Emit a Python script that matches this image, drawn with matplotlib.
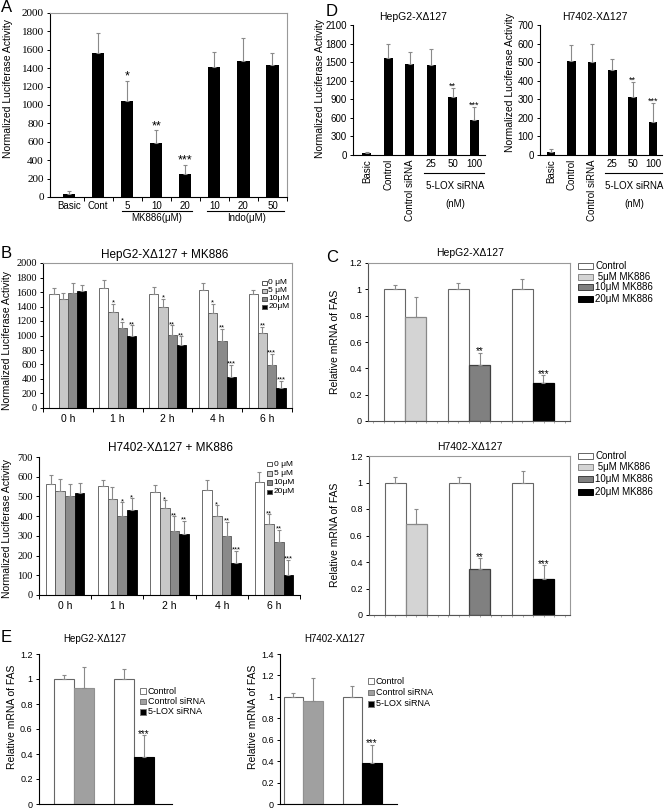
import numpy as np
import matplotlib
matplotlib.use("Agg")
import matplotlib.pyplot as plt
from matplotlib.patches import Rectangle

plt.rcParams['font.family'] = ['Liberation Sans', 'DejaVu Sans']
SERIF = ['Liberation Serif', 'DejaVu Serif']

# ---- panel A: luciferase, MK886 / Indo ----
a_labels = ["Basic", "Cont", "5", "10", "20", "10", "20", "50"]
a_vals = [30, 1560, 1040, 585, 250, 1415, 1480, 1435]
a_err = [30, 220, 225, 140, 100, 160, 245, 130]
a_stars = ["", "", "*", "**", "***", "", "", ""]

# ---- panel D: luciferase, 5-LOX siRNA ----
d_labels = ["Basic", "Control", "Control siRNA", "25", "50", "100"]
d_hep = [40, 1560, 1465, 1450, 935, 560]
d_hep_err = [15, 230, 195, 270, 145, 220]
d_h74 = [18, 505, 500, 458, 310, 180]
d_h74_err = [14, 85, 100, 57, 85, 100]
d_stars = ["", "", "", "", "**", "***"]

# ---- panel B: time course with MK886 ----
b_times = ["0 h", "1 h", "2 h", "4 h", "6 h"]
b_conc = ["0 μM", "5 μM", "10μM", "20μM"]
b_colors = ["white", "#c8c8c8", "#8a8a8a", "black"]
b_hep = [[1570, 1660, 1575, 1630, 1570],
         [1510, 1330, 1400, 1315, 1035],
         [1590, 1110, 1010, 925, 590],
         [1610, 1000, 870, 430, 270]]
b_hep_err = [[80, 110, 95, 90, 60],
             [70, 110, 110, 125, 85],
             [130, 80, 130, 170, 155],
             [90, 140, 120, 165, 105]]
b_hep_stars = [["", "", "", "", ""],
               ["", "*", "*", "*", "**"],
               ["", "*", "**", "**", "***"],
               ["", "**", "**", "***", "***"]]
b_h74 = [[565, 555, 522, 535, 572],
         [530, 485, 440, 400, 360],
         [500, 400, 325, 298, 268],
         [515, 432, 310, 162, 100]]
b_h74_err = [[45, 30, 38, 50, 53],
             [60, 65, 40, 55, 50],
             [65, 70, 75, 72, 62],
             [55, 58, 65, 63, 78]]
b_h74_stars = [["", "", "", "", ""],
               ["", "", "*", "*", "**"],
               ["", "*", "**", "**", "**"],
               ["", "*", "**", "***", "***"]]

# ---- panel C: FAS mRNA with MK886 ----
c_legend = ["Control", " 5μM MK886", "10μM MK886", "20μM MK886"]
c_colors = ["white", "#d4d4d4", "#808080", "black"]
c_edges = ["#666666", "#888888", "#404040", "black"]
c_hep_ctrl = [1.0, 1.0, 1.0]
c_hep_ctrl_err = [0.03, 0.05, 0.08]
c_hep_trt = [0.79, 0.425, 0.285]
c_hep_trt_err = [0.15, 0.095, 0.065]
c_h74_ctrl = [1.0, 1.0, 1.0]
c_h74_ctrl_err = [0.04, 0.04, 0.09]
c_h74_trt = [0.69, 0.345, 0.27]
c_h74_trt_err = [0.11, 0.085, 0.105]
c_stars = ["", "**", "***"]

# ---- panel E: FAS mRNA with 5-LOX siRNA ----
e_legend = ["Control", "Control siRNA", "5-LOX siRNA"]
e_colors = ["white", "#a0a0a0", "black"]
e_hep = [1.0, 0.93, 1.0, 0.38]
e_hep_err = [0.03, 0.17, 0.08, 0.17]
e_h74 = [1.0, 0.96, 1.0, 0.385]
e_h74_err = [0.04, 0.22, 0.10, 0.165]
e_bar_color = [0, 1, 0, 2]
e_stars = ["", "", "", "***"]

W, H = 664, 809
fig = plt.figure(figsize=(W / 100, H / 100), dpi=100)
ERR = dict(ecolor='#8a8a8a', elinewidth=0.8, capsize=1.5, capthick=0.8)


def add_ax(l, t, r, b):
    return fig.add_axes([l / W, 1 - b / H, (r - l) / W, (b - t) / H])


def ftext(x, y, s, **kw):
    fig.text(x / W, 1 - y / H, s, **kw)


def legend_entry(x, y, w, h, color, edge, label, fs, gap=2):
    fig.add_artist(Rectangle((x / W, 1 - (y + h / 2) / H), w / W, h / H,
                             facecolor=color, edgecolor=edge, lw=0.7,
                             transform=fig.transFigure))
    ftext(x + w + gap, y, label, fontsize=fs, va='center', ha='left')


def put_stars(ax, xs, tops, marks, fs, dy):
    for x, t, m in zip(xs, tops, marks):
        if m:
            ax.text(x, t + dy, m, ha='center', va='bottom', fontsize=fs)


def ylabels(ax, ticks, fs, family=None):
    ax.set_yticks(ticks)
    labs = [("%g" % v) for v in ticks]
    if family:
        ax.set_yticklabels(labs, fontsize=fs, fontfamily=family)
    else:
        ax.set_yticklabels(labs, fontsize=fs)
    ax.tick_params(axis='y', length=2.5, width=0.7, pad=2)


# ===== A =====
axA = add_ax(50, 13, 287, 197)
xa = np.arange(len(a_labels))
axA.bar(xa, a_vals, 0.42, color='black', yerr=[np.zeros(len(xa)), a_err], error_kw=ERR)
axA.set_xlim(-0.66, 7.5)
axA.set_ylim(0, 2000)
ylabels(axA, np.arange(0, 2001, 200), 8, SERIF)
axA.set_xticks(xa)
axA.set_xticklabels(a_labels, fontsize=7)
axA.set_xticks(np.arange(0.5, 7.6, 1), minor=True)
axA.tick_params(axis='x', which='major', length=0, pad=3)
axA.tick_params(axis='x', which='minor', length=3, width=0.7)
for s in ['top', 'right']:
    axA.spines[s].set_color('#999999')
put_stars(axA, xa, np.add(a_vals, a_err), a_stars, 9, -20)
trA = axA.get_xaxis_transform()
axA.plot([1.83, 4.24], [-0.076, -0.076], color='black', lw=0.8, transform=trA, clip_on=False)
axA.plot([4.76, 7.38], [-0.076, -0.076], color='black', lw=0.8, transform=trA, clip_on=False)
axA.text(3, -0.085, "MK886(μM)", transform=trA, ha='center', va='top', fontsize=7)
axA.text(6.1, -0.085, "Indo(μM)", transform=trA, ha='center', va='top', fontsize=7)
ftext(8, 89, "Normalized Luciferase Activity", rotation=90, ha='center', va='center', fontsize=7.5)
ftext(1, 8, "A", fontsize=12, ha='left', va='center')


# ===== D =====
def draw_d(box, vals, err, ymax, step, xlim, title, tx, ylx, yly):
    ax = add_ax(*box)
    xd = np.arange(len(d_labels))
    ax.bar(xd, vals, 0.42, color='black', yerr=[np.zeros(len(xd)), err], error_kw=ERR)
    ax.set_xlim(*xlim)
    ax.set_ylim(0, ymax)
    ylabels(ax, np.arange(0, ymax + 1, step), 7)
    ax.set_xticks(xd)
    ax.set_xticklabels(d_labels, fontsize=7)
    for i, lbl in enumerate(ax.get_xticklabels()):
        if i < 3:
            lbl.set_rotation(90)
    ax.tick_params(axis='x', length=0, pad=3)
    for s in ['top', 'right']:
        ax.spines[s].set_visible(False)
    put_stars(ax, xd, np.add(vals, err), d_stars, 6.5, -ymax * 0.02)
    tr = ax.get_xaxis_transform()
    ax.plot([2.65, 5.45], [-0.14, -0.14], color='black', lw=0.8, transform=tr, clip_on=False)
    ax.text(4.1, -0.2, "5-LOX siRNA", transform=tr, ha='center', va='top', fontsize=7)
    ax.text(4.1, -0.34, "(nM)", transform=tr, ha='center', va='top', fontsize=7)
    ftext(tx, 17, title, ha='center', va='center', fontsize=7.5)
    ftext(ylx, yly, "Normalized Luciferase Activity", rotation=90, ha='center', va='center', fontsize=7.5)
    return ax


draw_d((353, 25, 485, 155), d_hep, d_hep_err, 2100, 300, (-0.65, 5.5),
       "HepG2-XΔ127", 413, 320, 88)
draw_d((540, 25, 662, 155), d_h74, d_h74_err, 700, 100, (-0.54, 5.44),
       "H7402-XΔ127", 595, 510, 82)
ftext(326, 12, "D", fontsize=12, ha='left', va='center')


# ===== B =====
def draw_b(box, vals, errs, marks, ymax, step, boxed, title, ty, tx, lx, ly0, ldy, yly):
    ax = add_ax(*box)
    xb = np.arange(len(b_times))
    w = 0.185
    for k in range(len(b_conc)):
        pos = xb + (k - 1.5) * w
        ax.bar(pos, vals[k], w, color=b_colors[k], edgecolor='#555555' if k < 3 else 'black',
               lw=0.6, yerr=[np.zeros(len(xb)), errs[k]], error_kw=ERR)
        put_stars(ax, pos, np.add(vals[k], errs[k]), marks[k], 5.5, -ymax * 0.02)
    ax.set_xlim(-0.5, 4.5)
    ax.set_ylim(0, ymax)
    ylabels(ax, np.arange(0, ymax + 1, step), 7.5, SERIF)
    ax.set_xticks(xb)
    ax.set_xticklabels(b_times, fontsize=7.5)
    ax.set_xticks(np.arange(-0.5, 4.6, 1), minor=True)
    ax.tick_params(axis='x', which='major', length=0, pad=4)
    ax.tick_params(axis='x', which='minor', length=3, width=0.7)
    for s in ['top', 'right']:
        if boxed:
            ax.spines[s].set_color('#999999')
        else:
            ax.spines[s].set_visible(False)
    ftext(tx, ty, title, ha='center', va='center', fontsize=8.5)
    ftext(7, yly, "Normalized Luciferase Activity", rotation=90, ha='center', va='center', fontsize=7.5)
    for k in range(len(b_conc)):
        legend_entry(lx, ly0 + k * ldy, 4.5, 4.5, b_colors[k], '#555555', b_conc[k], 6)
    return ax


draw_b((43, 263, 292, 408), b_hep, b_hep_err, b_hep_stars, 2000, 200, True,
       "HepG2-XΔ127 + MK886", 255, 165, 262, 283, 8, 340)
draw_b((39, 457, 300, 595), b_h74, b_h74_err, b_h74_stars, 700, 100, False,
       "H7402-XΔ127 + MK886", 448, 170, 267, 464, 9.3, 528)
ftext(1, 253, "B", fontsize=12, ha='left', va='center')


# ===== C =====
def draw_c(box, ctrl, ctrl_err, trt, trt_err, title, ty, ly, yly):
    ax = add_ax(*box)
    xc = np.arange(len(ctrl))
    w = 0.33
    ax.bar(xc - w / 2, ctrl, w, color='white', edgecolor=c_edges[0], lw=0.8,
           yerr=[np.zeros(len(xc)), ctrl_err], error_kw=ERR)
    ax.bar(xc + w / 2, trt, w, color=c_colors[1:], edgecolor=c_edges[1:], lw=0.9,
           yerr=[np.zeros(len(xc)), trt_err], error_kw=ERR)
    put_stars(ax, xc + w / 2, np.add(trt, trt_err), c_stars, 7, -0.03)
    ax.set_xlim(-0.58, 2.58)
    ax.set_ylim(0, 1.2)
    ylabels(ax, np.round(np.arange(0, 1.21, 0.2), 1), 6.5)
    ax.set_xticks([])
    ax.set_xticks(np.arange(-0.5, 2.6, 1 / 6), minor=True)
    ax.tick_params(axis='x', which='minor', length=1.5, width=0.5, color='#888888')
    for s in ['left', 'bottom']:
        ax.spines[s].set_color('#555555')
    for s in ['top', 'right']:
        ax.spines[s].set_color('#999999')
    ftext(470, ty, title, ha='center', va='center', fontsize=7.5)
    ftext(335, yly, "Relative mRNA of FAS", rotation=90, ha='center', va='center', fontsize=7.5)
    for k in range(len(c_legend)):
        legend_entry(578, ly[k], 15, 6, c_colors[k], c_edges[k], c_legend[k], 7)
    return ax


draw_c((368, 263, 570, 421), c_hep_ctrl, c_hep_ctrl_err, c_hep_trt, c_hep_trt_err,
       "HepG2-XΔ127", 253, [266, 277, 287, 299], 342)
draw_c((369, 456, 570, 615), c_h74_ctrl, c_h74_ctrl_err, c_h74_trt, c_h74_trt_err,
       "H7402-XΔ127", 447, [456, 467, 479, 492], 535)
ftext(326, 257, "C", fontsize=12, ha='left', va='center')


# ===== E =====
def draw_e(box, vals, err, ymax, xlim, title, tx, lx, ly0, ldy, ylx):
    ax = add_ax(*box)
    w = 0.33
    pos = np.array([0 - w / 2, 0 + w / 2, 1 - w / 2, 1 + w / 2])
    cols = [e_colors[i] for i in e_bar_color]
    ax.bar(pos, vals, w, color=cols, edgecolor=['#666666', '#909090', '#666666', 'black'],
           lw=0.8, yerr=[np.zeros(len(pos)), err], error_kw=ERR)
    put_stars(ax, pos, np.add(vals, err), e_stars, 7, -0.03)
    ax.set_xlim(*xlim)
    ax.set_ylim(0, ymax)
    ylabels(ax, np.round(np.arange(0, ymax + 0.01, 0.2), 1), 6.5)
    ax.set_xticks([])
    for s in ['top', 'right']:
        ax.spines[s].set_visible(False)
    ftext(tx, 639, title, ha='center', va='center', fontsize=7)
    ftext(ylx, 717, "Relative mRNA of FAS", rotation=90, ha='center', va='center', fontsize=7.5)
    for k in range(len(e_legend)):
        legend_entry(lx, ly0 + k * ldy, 5.5, 5.5, e_colors[k], '#777777', e_legend[k], 6.5)
    return ax


draw_e((39, 654, 172, 804), e_hep, e_hep_err, 1.2, (-0.58, 1.63),
       "HepG2-XΔ127", 95, 140, 691, 10.5, 12)
draw_e((280, 654, 397, 804), e_h74, e_h74_err, 1.4, (-0.39, 1.59),
       "H7402-XΔ127", 335, 368, 681, 11.5, 253)
ftext(1, 638, "E", fontsize=12, ha='left', va='center')

fig.savefig("out.png", dpi=100)
